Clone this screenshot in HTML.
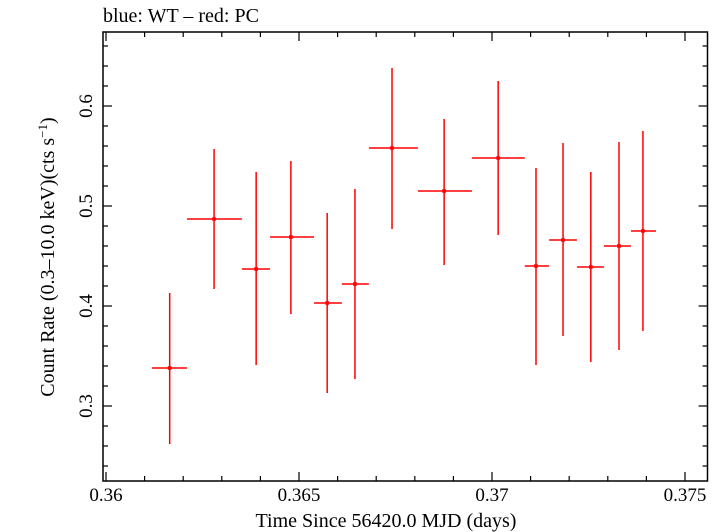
<!DOCTYPE html>
<html><head><meta charset="utf-8"><style>
html,body{margin:0;padding:0;background:#fff;}
svg{display:block;font-family:"Liberation Serif",serif;}
</style></head><body>
<svg width="722" height="532" viewBox="0 0 722 532">
<text x="103" y="22" font-size="20">blue: WT – red: PC</text>
<rect x="103" y="32" width="604.5" height="449" fill="none" stroke="#000" stroke-width="1.5"/>
<g id="ticks"></g>
<g id="labels" font-size="19"></g>
<g id="marks"></g>
<text x="386" y="527" font-size="20" text-anchor="middle">Time Since 56420.0 MJD (days)</text>
<text transform="translate(54,257) rotate(-90)" font-size="20" text-anchor="middle">Count Rate (0.3–10.0 keV)(cts s<tspan dy="-7" font-size="13">−1</tspan><tspan dy="7">)</tspan></text>
</svg>
<script>
const times=[0.36165,0.3628,0.36389,0.36479,0.36573,0.36645,0.36741,0.36876,0.37016,0.37114,0.37184,0.37256,0.37329,0.37391];
const tStart=[0.36119,0.3621,0.36352,0.36425,0.36539,0.36611,0.36681,0.36808,0.36948,0.37085,0.37148,0.3722,0.3729,0.3736];
const tEnd=[0.3621,0.36352,0.36425,0.36539,0.36611,0.36681,0.36808,0.36948,0.37085,0.37148,0.3722,0.3729,0.3736,0.37425];
const rates=[0.338,0.487,0.437,0.469,0.403,0.422,0.558,0.515,0.548,0.440,0.466,0.439,0.460,0.475];
const rateHi=[0.413,0.557,0.534,0.545,0.493,0.517,0.638,0.587,0.625,0.538,0.563,0.534,0.564,0.575];
const rateLo=[0.262,0.417,0.341,0.392,0.313,0.327,0.477,0.441,0.471,0.341,0.370,0.344,0.356,0.375];
const xTickLabels=["0.36","0.365","0.37","0.375"];
const yTickLabels=["0.3","0.4","0.5","0.6"];
const NS="http://www.w3.org/2000/svg";
const X=v=>106+(v-0.36)*38600;
const Y=v=>206-(v-0.5)*1000;
const L=103,R=707.5,T=32,B=481;
function mk(tag,attrs,parent){const e=document.createElementNS(NS,tag);for(const k in attrs)e.setAttribute(k,attrs[k]);parent.appendChild(e);return e;}
const tk=document.getElementById('ticks'),lb=document.getElementById('labels'),mg=document.getElementById('marks');
for(let i=0;i<=15;i++){const v=0.36+i*0.001;const x=X(v);if(x>R)break;const major=i%5===0;const len=major?9:5;
const a=mk('line',{x1:x,x2:x,y1:B,y2:B-len,stroke:'#000','stroke-width':1.2},tk);


const b=mk('line',{x1:x,x2:x,y1:T,y2:T+len,stroke:'#000','stroke-width':1.2},tk);

}
xTickLabels.forEach(s=>{const t=mk('text',{x:X(parseFloat(s)),y:501,'text-anchor':'middle'},lb);t.textContent=s;

});
for(let i=0;i<=25;i++){const v=0.22+i*0.02;const y=Y(v);if(y<T||y>B)continue;const major=Math.abs((v*10)-Math.round(v*10))<1e-6;const len=major?9:5;
const a=mk('line',{x1:L,x2:L+len,y1:y,y2:y,stroke:'#000','stroke-width':1.2},tk);


const b=mk('line',{x1:R,x2:R-len,y1:y,y2:y,stroke:'#000','stroke-width':1.2},tk);

}
yTickLabels.forEach(s=>{const y=Y(parseFloat(s));const t=mk('text',{x:y,y:0,'text-anchor':'middle',transform:`translate(92,0) rotate(-90) translate(${-2*y},0)`},lb);t.setAttribute('x',y);t.setAttribute('transform',`translate(92,${y}) rotate(-90)`);t.setAttribute('x',0);t.textContent=s;

});
times.forEach((t,i)=>{const g=mk('g',{},mg);


mk('line',{x1:X(tStart[i]),x2:X(tEnd[i]),y1:Y(rates[i]),y2:Y(rates[i]),stroke:'#f00','stroke-width':1.5},g);
mk('line',{x1:X(t),x2:X(t),y1:Y(rateHi[i]),y2:Y(rateLo[i]),stroke:'#f00','stroke-width':1.5},g);
mk('rect',{x:X(t)-1.8,y:Y(rates[i])-1.8,width:3.6,height:3.6,fill:'#f00'},g);});
</script>
</body></html>
